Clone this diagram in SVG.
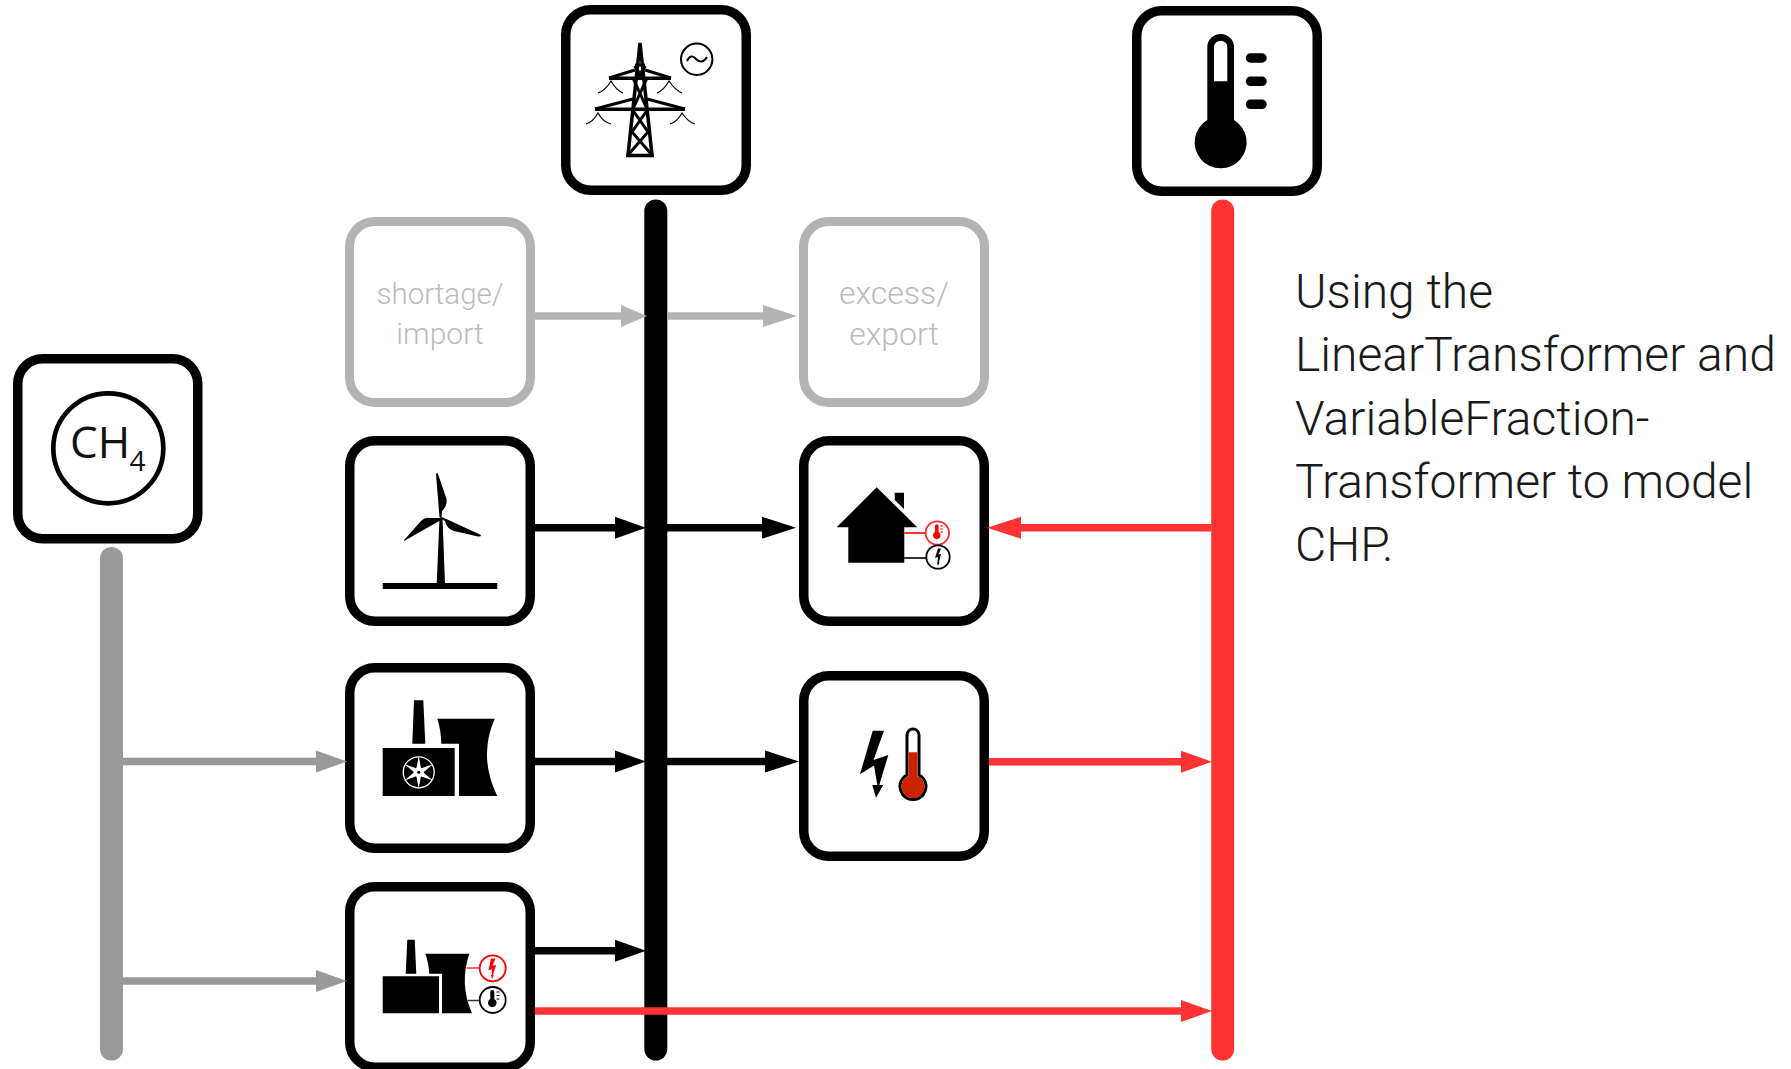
<svg xmlns="http://www.w3.org/2000/svg" width="1791" height="1069" viewBox="0 0 1791 1069">
<style>
.box{fill:#fff;stroke:#000;stroke-width:9.5}
.ghost{fill:#fff;stroke:#b3b3b3;stroke-width:9}
.bus{fill:none;stroke-linecap:round;stroke-width:23}
.l{fill:none;stroke-width:7.500}
.k{stroke:#000}.r{stroke:#ff3333}.g{stroke:#999}.s{stroke:#b3b3b3}
.t{font-family:Roboto,"Liberation Sans",sans-serif;font-weight:300}
.gt{font-size:30px;fill:#bbb;text-anchor:middle}
.note{font-size:48px;fill:#1a1a1a}
.ch{font-family:"Open Sans",sans-serif;font-weight:400;fill:#111}
</style>
<defs>
<marker id="ak" markerUnits="userSpaceOnUse" markerWidth="31" markerHeight="24" refX="0" refY="12" orient="auto"><path d="M0 1 L31 12 L0 23Z" fill="#000"/></marker>
<marker id="akl" markerUnits="userSpaceOnUse" markerWidth="34" markerHeight="24" refX="0" refY="12" orient="auto"><path d="M0 1 L34 12 L0 23Z" fill="#000"/></marker>
<marker id="ar" markerUnits="userSpaceOnUse" markerWidth="31" markerHeight="24" refX="0" refY="12" orient="auto"><path d="M0 1 L31 12 L0 23Z" fill="#ff3333"/></marker>
<marker id="arl" markerUnits="userSpaceOnUse" markerWidth="34" markerHeight="24" refX="0" refY="12" orient="auto"><path d="M0 1 L34 12 L0 23Z" fill="#ff3333"/></marker>
<marker id="ag" markerUnits="userSpaceOnUse" markerWidth="31" markerHeight="24" refX="0" refY="12" orient="auto"><path d="M0 1 L31 12 L0 23Z" fill="#999"/></marker>
<marker id="as" markerUnits="userSpaceOnUse" markerWidth="26" markerHeight="24" refX="0" refY="12" orient="auto"><path d="M0 1 L26 12 L0 23Z" fill="#b3b3b3"/></marker>
<marker id="asl" markerUnits="userSpaceOnUse" markerWidth="34" markerHeight="24" refX="0" refY="12" orient="auto"><path d="M0 1 L34 12 L0 23Z" fill="#b3b3b3"/></marker>
</defs>
<rect width="1791" height="1069" fill="#fff"/>
<g id="bus-electricity">
<rect class="box" x="565.750" y="9.750" width="180.500" height="180.500" rx="25"/>
<g fill="none" stroke="#000" stroke-width="3.500">
<path d="M628 155L640 43L652 155M626 155.500H654"/>
<path stroke-width="3" d="M635 65L645 65M634.500 66L643 78M645.500 66L637 78M632 109L648 132L628 155M648 109L632 132L652 155M633 78L647 109M647 78L633 109"/>
<path stroke-width="3.500" d="M609 78.300H671"/>
<path stroke-width="3" d="M609 78L635 70M671 78L645 70"/>
<path stroke-width="3.500" d="M595 109.300H685"/>
<path stroke-width="3" d="M595 109L633 99M685 109L647 99"/>
<path stroke-width="1.200" d="M598 93Q606 90 611 81Q616 90 623 93M657 93Q664 90 669 81Q675 90 682 93M586 124Q593 122 598 113Q603 122 611 124M670 124Q677 122 682 113Q688 122 695 124"/>
</g>
<circle cx="696.700" cy="59.300" r="15.700" fill="none" stroke="#000" stroke-width="2"/>
<path d="M687 61Q691 53 696 59Q702 65 707 57" fill="none" stroke="#000" stroke-width="2"/>
</g>
<g id="bus-heat">
<rect class="box" x="1136.750" y="10.750" width="180.500" height="180.500" rx="25"/>
<path d="M1207.300 120V47.300a13.350 13.350 0 0 1 26.700 0V120a26 26 0 1 1 -26.700 0Z"/>
<path d="M1214 81.300V47.300a6.650 6.650 0 0 1 13.300 0V81.300Z" fill="#fff"/>
<path d="M1250.500 58H1262M1250.500 81.300H1262M1250.500 104.300H1262" stroke="#000" stroke-width="9.500" stroke-linecap="round"/>
</g>
<g id="bus-gas">
<rect class="box" x="17.750" y="358.750" width="180" height="180" rx="25"/>
<circle cx="108.300" cy="448.300" r="55" fill="none" stroke="#000" stroke-width="4.700"/>
<text class="ch" x="70" y="458" font-size="44">CH</text>
<text class="ch" x="129.500" y="471" font-size="28">4</text>
</g>
<g id="shortage">
<rect class="ghost" x="349.500" y="221.500" width="181" height="181" rx="25"/>
<text class="t gt" x="440" y="304" style="font-size:29.500px">shortage/</text>
<text class="t gt" x="440" y="344">import</text>
</g>
<g id="excess">
<rect class="ghost" x="803.500" y="221.500" width="181" height="181" rx="25"/>
<text class="t gt" x="894" y="304" style="font-size:32px">excess/</text>
<text class="t gt" x="894" y="345" style="font-size:32px">export</text>
</g>
<g id="wind">
<rect class="box" x="349.750" y="440.750" width="180.500" height="180.500" rx="25"/>
<path d="M382.700 583H497.300V589H382.700Z"/>
<path d="M436.700 584L439.500 518H442.500L445 584Z"/>
<path d="M436 474Q437.500 472 438 474L446.500 499Q447.500 506 442 511L441.500 518Q440 518 439.500 517Z"/>
<path d="M404 541Q403.500 540 405 539L421 521Q425 517 430 518L440 518L441 520Z"/>
<path d="M481 535Q481 537 478 536.500L454 531Q447 529 445 521L441 519L442 517Z"/>
</g>
<g id="demand">
<rect class="box" x="803.750" y="440.750" width="180.500" height="180.500" rx="25"/>
<path d="M876.700 487.300L917.300 527.300H904.300V562.700H848.300V527.300H836.700Z"/>
<path d="M894.700 492.700H904V509L894.700 500Z"/>
<path d="M904 533H925" stroke="#ff3333" stroke-width="2"/>
<path d="M904 558H926" stroke="#333" stroke-width="2"/>
<circle cx="937.300" cy="533" r="11.700" fill="#fff" stroke="#ff2a2a" stroke-width="1.800"/>
<circle cx="938" cy="557" r="11.700" fill="#fff" stroke="#000" stroke-width="1.800"/>
<path d="M935 532V526a1.800 1.800 0 0 1 3.600 0V532a3.800 3.800 0 1 1 -3.600 0Z" fill="#f00"/>
<path d="M940.500 526H943M940.500 529H943M940.500 532H943" stroke="#f00" stroke-width="1"/>
<path d="M938 548.500H941L938.500 554.500L941 554L939 562L939.500 562L938 566L937 562H937.500L938 557L935 558Z"/>
</g>
<g id="power-plant">
<rect class="box" x="349.750" y="667.750" width="180.500" height="180.500" rx="25"/>
<path d="M414 700.300H423.300L425.300 743.700H412.300Z"/>
<path d="M382.700 748H454.700V796H382.700Z"/>
<path d="M437.300 718.700H494.700Q478 757 497.300 796H459V743.700H441.300Q441 730 437.300 718.700Z"/>
<circle cx="418.700" cy="772.300" r="15.500" fill="none" stroke="#fff" stroke-width="1.300"/>
<g fill="#fff"><path id="blade" d="M417.500 772.300L416.500 768L418.700 756L421 768L420 772.300Z"/>
<use href="#blade" transform="rotate(60 418.700 772.300)"/><use href="#blade" transform="rotate(120 418.700 772.300)"/><use href="#blade" transform="rotate(180 418.700 772.300)"/><use href="#blade" transform="rotate(240 418.700 772.300)"/><use href="#blade" transform="rotate(300 418.700 772.300)"/>
<circle cx="418.700" cy="772.300" r="5"/></g>
<circle cx="418.700" cy="772.300" r="1.500"/>
</g>
<g id="electric-heater">
<rect class="box" x="803.750" y="675.750" width="180.500" height="180.500" rx="25"/>
<path d="M872.700 730.700H884L873.500 760L888.300 755L879.300 785H883.300L876 797.700L872.300 785H877.300L874 765.500L860 774.300Z"/>
<path d="M907 775V735a6 6 0 0 1 12 0V775a13 13 0 1 1 -12 0Z" fill="#fff" stroke="#000" stroke-width="3"/>
<path d="M908.500 752.300H917.500V776a11.500 11.500 0 1 1 -9 0Z" fill="#cc2200"/>
</g>
<g id="chp">
<rect class="box" x="349.750" y="886.750" width="180.500" height="180.500" rx="25"/>
<path d="M407.300 939.700H414.700L416.300 973.700H405.700Z"/>
<path d="M382.700 976.300H439V1013.300H382.700Z"/>
<path d="M425.300 953.700H469.300Q459 984 472 1013.300H442V973.700H429.300Q428.500 962 425.300 953.700Z"/>
<path d="M466.500 968H479.500" stroke="#ff3333" stroke-width="1.500"/>
<path d="M468 1000.500H479.500" stroke="#333" stroke-width="1.500"/>
<circle cx="492.700" cy="968.300" r="13" fill="#fff" stroke="#ff0000" stroke-width="1.800"/>
<circle cx="492.700" cy="1000" r="13" fill="#fff" stroke="#000" stroke-width="1.800"/>
<path d="M491 958.500H495.500L492.500 965.500L496 965L493 975L493.800 975L492 979L491 975H491.800L492 969L488.500 970.500Z" fill="#f00"/>
<path d="M490.300 999V992a2 2 0 0 1 4 0V999a4.300 4.300 0 1 1 -4 0Z"/>
<path d="M496.500 992H499.500M496.500 995.500H499.500M496.500 999H499.500" stroke="#000" stroke-width="1"/>
</g>
<g id="connectors">
<path class="bus g" d="M111.500 558.500V1049"/>
<path class="bus k" d="M655.800 211V1049"/>
<path class="bus r" d="M1222.700 211V1049"/>
<path class="l s" d="M535 316H621" marker-end="url(#as)"/>
<path class="l s" d="M667 316H763" marker-end="url(#asl)"/>
<path class="l k" d="M535 527.700H615" marker-end="url(#ak)"/>
<path class="l k" d="M667 527.700H762" marker-end="url(#akl)"/>
<path class="l r" d="M1211.500 527.700H1021" marker-end="url(#arl)"/>
<path class="l g" d="M122 761.500H316" marker-end="url(#ag)"/>
<path class="l k" d="M535 761.500H615" marker-end="url(#ak)"/>
<path class="l k" d="M667 761.500H765" marker-end="url(#akl)"/>
<path class="l r" d="M989 761.700H1181" marker-end="url(#ar)"/>
<path class="l g" d="M122 981H316" marker-end="url(#ag)"/>
<path class="l k" d="M535 950.700H615" marker-end="url(#ak)"/>
<path class="l r" d="M535 1011H1181" marker-end="url(#ar)"/>
</g>
<g id="note" class="t note">
<text x="1295" y="308">Using the</text>
<text x="1295" y="371">LinearTransformer and</text>
<text x="1295" y="435">VariableFraction-</text>
<text x="1295" y="498">Transformer to model</text>
<text x="1295" y="561">CHP.</text>
</g>
</svg>
